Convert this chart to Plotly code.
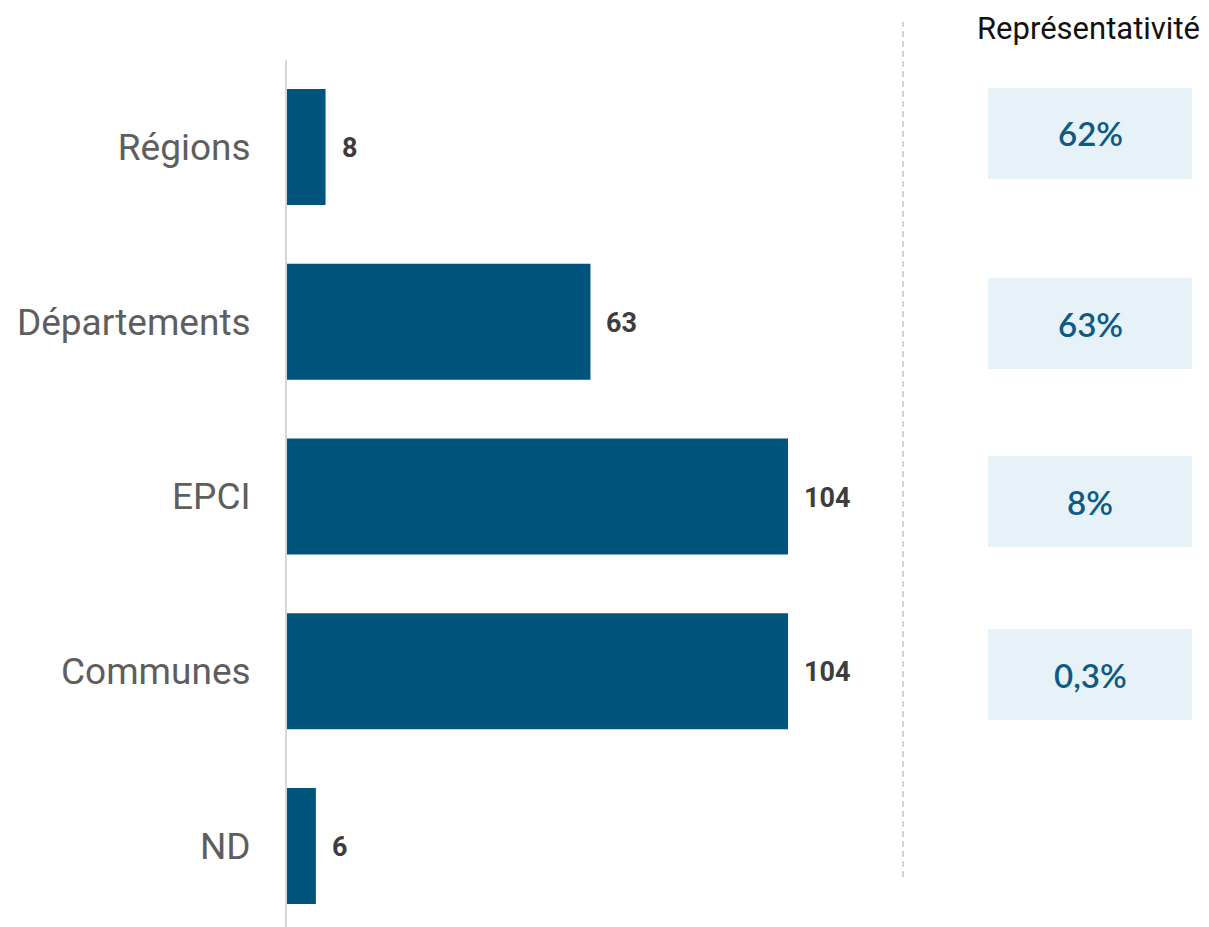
import plotly.graph_objects as go

categories = ["Régions", "Départements", "EPCI", "Communes", "ND"]
values = [8, 63, 104, 104, 6]
repr_labels = ["62%", "63%", "8%", "0,3%"]
header = "Représentativité"

BAR = "#01547c"
OFF = 8  # default page body margin
W, H = 1209 - OFF, 927 - OFF
# all pixel positions below are in target-page coords; converted with OFF
L, R, T = 287 - OFF, 1209 - 903, 60 - OFF
B = 0
plot_w = W - L - R
plot_h = H - T - B

fig = go.Figure()
fig.add_trace(go.Bar(
    x=values, y=categories, orientation="h",
    marker=dict(color=BAR, line=dict(width=0)),
    width=0.664, hoverinfo="skip",
))

for c, v in zip(categories, values):
    fig.add_annotation(x=v, y=c, xref="x", yref="y", text=f"<b>{v}</b>",
                       showarrow=False, xanchor="left", xshift=14, yshift=-1,
                       font=dict(family="Roboto", size=27, color="#3d3d3d"))

def px_x(p):
    return (p - OFF - L) / plot_w
def px_y(p):
    return (H - B - (p - OFF)) / plot_h

box_centers = [133.5, 323.5, 501.5, 674.5]
box_h = 91
bx0, bx1 = 988, 1192
for lab, cy in zip(repr_labels, box_centers):
    fig.add_shape(type="rect", xref="paper", yref="paper",
                  x0=px_x(bx0), x1=px_x(bx1),
                  y0=px_y(cy + box_h / 2), y1=px_y(cy - box_h / 2),
                  fillcolor="#e6f1f8", line=dict(width=0), layer="below")
    fig.add_annotation(xref="paper", yref="paper", x=px_x((bx0 + bx1) / 2), y=px_y(cy),
                       text=lab, showarrow=False, xanchor="center", yanchor="middle",
                       font=dict(family="Lato", size=33, color="#0d5a82", weight=600))

fig.add_shape(type="line", xref="paper", yref="paper",
              x0=px_x(903), x1=px_x(903), y0=px_y(877), y1=px_y(22),
              line=dict(color="#bdbdbd", width=1.3, dash="6px,4px"))

fig.add_annotation(xref="paper", yref="paper", x=px_x(1088), y=px_y(28),
                   text=header, showarrow=False, xanchor="center", yanchor="middle",
                   font=dict(family="Roboto", size=31, color="#111111"))

scale = (788 - 287) / 104.0
xmax = plot_w / scale
cat_px = 174.75
top_off = (147 - 60) / cat_px
bot = (927 - 147) / cat_px

fig.update_layout(
    width=W, height=H,
    margin=dict(l=L, r=R, t=T, b=B, pad=0),
    paper_bgcolor="white", plot_bgcolor="white",
    showlegend=False,
    xaxis=dict(range=[0, xmax], visible=False, fixedrange=True),
    yaxis=dict(range=[bot, -top_off], showgrid=False, zeroline=False,
               showline=True, linecolor="#d6d6d6", linewidth=2,
               ticks="", ticklabelstandoff=27,
               tickfont=dict(family="Roboto", size=37, color="#5e5e5e")),
)

fig.write_html("out.html")
